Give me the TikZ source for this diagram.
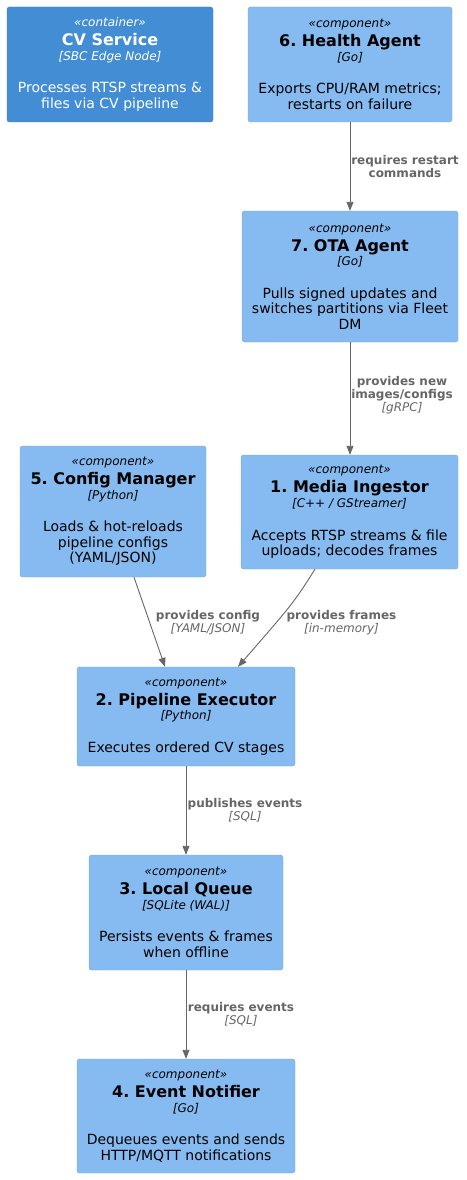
\documentclass[tikz,border=0pt]{standalone}
\usepackage{fontspec}
\setmainfont{DejaVu Sans}
\usetikzlibrary{arrows.meta}
\frenchspacing
\definecolor{contfill}{HTML}{438DD5}
\definecolor{contedge}{HTML}{3C7FC0}
\definecolor{compfill}{HTML}{85BBF0}
\definecolor{compedge}{HTML}{78A8D8}
\definecolor{relgray}{HTML}{666666}
\def\stereo#1{{\itshape\fontsize{12}{14}\selectfont «#1»}}
\def\ctitle#1{{\bfseries\fontsize{16}{18}\selectfont #1}}
\def\ctech#1{{\itshape\fontsize{12}{14}\selectfont [#1]}}
\def\comp#1#2#3#4{\stereo{#1}\\[3.5pt]\ctitle{#2}\\[-0.8pt]\ctech{#3}\\[17pt]#4}
\tikzset{
	compbox/.style={draw=compedge, fill=compfill, rounded corners=2.5pt, align=center, inner sep=0pt, font=\fontsize{14}{15.5}\selectfont},
	contbox/.style={compbox, draw=contedge, fill=contfill, text=white},
	rel/.style={draw=relgray, line width=0.9pt, -{Triangle[length=9pt,width=7pt]}},
	rellabel/.style={align=center, inner sep=0pt, anchor=north, text=relgray, font=\bfseries\fontsize{12}{13}\selectfont},
}

\begin{document}
\begin{tikzpicture}[x=1pt, y=-1pt]
			%%%%% START %%%%%
			\useasboundingbox (0, 0) rectangle (466, 1180);
			
			\node[contbox, minimum width=206pt, minimum height=115pt] (cv) at (110, 64.5) {\comp{container}{CV Service}{SBC Edge Node}{Processes RTSP streams \&\\files via CV pipeline}};
			\node[compbox, minimum width=204pt, minimum height=115pt] (ha) at (350, 64.5) {\comp{component}{6. Health Agent}{Go}{Exports CPU/RAM metrics;\\restarts on failure}};
			
			\node[compbox, minimum width=216pt, minimum height=131pt] (ota) at (350, 276.5) {\comp{component}{7. OTA Agent}{Go}{Pulls signed updates and\\switches partitions via Fleet\\DM}};
			
			\node[compbox, minimum width=186pt, minimum height=131pt] (cfg) at (113, 511.5) {\comp{component}{5. Config Manager}{Python}{Loads \& hot-reloads\\pipeline configs\\(YAML/JSON)}};
			\node[compbox, minimum width=217pt, minimum height=114pt] (med) at (349.5, 512) {\comp{component}{1. Media Ingestor}{C++ / GStreamer}{Accepts RTSP streams \& file\\uploads; decodes frames}};
			
			\node[compbox, minimum width=218pt, minimum height=99pt] (pipe) at (186, 716.5) {\comp{component}{2. Pipeline Executor}{Python}{Executes ordered CV stages}};
			\node[compbox, minimum width=194pt, minimum height=115pt] (lq) at (186, 912.5) {\comp{component}{3. Local Queue}{SQLite (WAL)}{Persists events \& frames\\when offline}};
			\node[compbox, minimum width=218pt, minimum height=114pt] (en) at (186, 1116) {\comp{component}{4. Event Notifier}{Go}{Dequeues events and sends\\HTTP/MQTT notifications}};
			
			% relations
			\draw[rel] (ha.south) -- (ota.north);
			\node[rellabel] (l1) at (405, 155) {requires restart\\commands};
			
			\draw[rel] (ota.south) -- (ota.south |- med.north);
			\node[rellabel] (l2) at (402, 376) {provides new\\images/configs\\{\mdseries\itshape [gRPC]}};
			
			\draw[rel] ([xshift=21pt]cfg.south) -- ([xshift=-21pt]pipe.north);
			\node[rellabel] (l3) at (208, 610) {provides config\\{\mdseries\itshape [YAML/JSON]}};
			
			\draw[rel] ([xshift=-34.5pt]med.south) .. controls (293.5, 603) .. ([xshift=52pt]pipe.north);
			\node[rellabel] (l4) at (341.5, 610) {provides frames\\{\mdseries\itshape [in-memory]}};
			
			\draw[rel] (pipe.south) -- (lq.north);
			\node[rellabel] (l5) at (245, 798) {publishes events\\{\mdseries\itshape [SQL]}};
			
			\draw[rel] (lq.south) -- (en.north);
			\node[rellabel] (l6) at (241, 1002) {requires events\\{\mdseries\itshape [SQL]}};
			
			%%%%% END %%%%%
\end{tikzpicture}
\end{document}
